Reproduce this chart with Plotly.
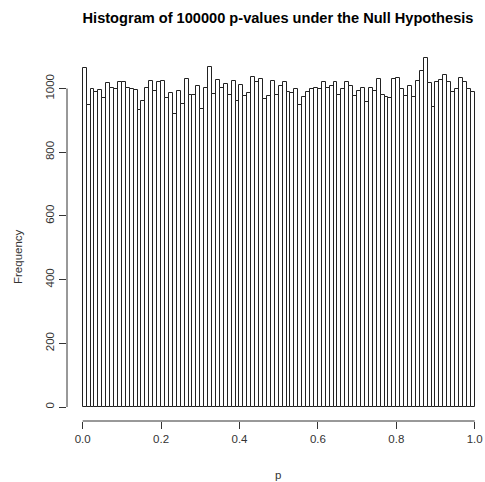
import numpy as np
import plotly.graph_objects as go

# Histogram bin counts (100 bins of width 0.01 on [0, 1])
counts = [1065, 948, 999, 990, 996, 970, 1016, 1002, 1000, 1022,
          1022, 1002, 1000, 996, 933, 962, 1002, 1024, 993, 1022,
          1024, 970, 986, 920, 991, 953, 1030, 980, 980, 1008,
          936, 1002, 1068, 982, 1027, 1002, 1013, 980, 1024, 961,
          1010, 976, 986, 1037, 1021, 1029, 968, 977, 1024, 979,
          1008, 1022, 990, 987, 1000, 948, 974, 988, 1000, 1002,
          1000, 1022, 1002, 1008, 1020, 980, 1000, 1020, 1008, 976,
          993, 1002, 958, 1002, 993, 1030, 981, 974, 969, 1029,
          1032, 998, 977, 1008, 974, 1024, 1056, 1096, 1017, 942,
          1021, 1027, 1043, 1022, 990, 998, 1032, 1020, 998, 988]
breaks = np.linspace(0, 1, len(counts) + 1)
mids = (breaks[:-1] + breaks[1:]) / 2
x_ticks = [0.0, 0.2, 0.4, 0.6, 0.8, 1.0]
x_ticklabels = ["0.0", "0.2", "0.4", "0.6", "0.8", "1.0"]
y_ticks = [0, 200, 400, 600, 800, 1000]
y_ticklabels = ["0", "200", "400", "600", "800", "1000"]

FONT = "Liberation Sans, Arial, sans-serif"
AX = "#333333"

fig = go.Figure(go.Bar(
    x=mids, y=counts, width=np.diff(breaks),
    marker=dict(color="white", line=dict(color="#222222", width=1)),
    hoverinfo="skip",
))

W, H = 485, 482
L, R, T, B = 67, 0, 44, 61
pw, ph = W - L - R, H - T - B

fig.update_layout(
    width=W, height=H,
    margin=dict(l=L, r=R, t=T, b=B),
    paper_bgcolor="white", plot_bgcolor="white",
    bargap=0, showlegend=False,
    font=dict(family=FONT, color=AX, size=11.5),
    title=dict(text="<b>Histogram of 100000 p-values under the Null Hypothesis</b>",
               x=278 / W, xanchor="center", y=1 - 18 / H, yanchor="middle",
               font=dict(family=FONT, size=14.6, color="black")),
    xaxis=dict(range=[-0.04, 1.0263], tickvals=x_ticks, ticktext=x_ticklabels,
               ticks="outside", ticklen=7, tickcolor=AX, tickwidth=1,
               showgrid=False, zeroline=False, showline=False,
               tickfont=dict(size=11.5, color=AX)),
    yaxis=dict(range=[-43.8, 1139.8], tickvals=y_ticks, ticktext=y_ticklabels,
               ticks="outside", ticklen=7, tickcolor=AX, tickwidth=1,
               tickangle=-90,
               showgrid=False, zeroline=False, showline=False,
               tickfont=dict(size=11.5, color=AX)),
    shapes=[
        dict(type="line", xref="x", yref="paper", x0=x_ticks[0], x1=x_ticks[-1],
             y0=0, y1=0, line=dict(color=AX, width=1)),
        dict(type="line", xref="paper", yref="y", x0=0, x1=0,
             y0=y_ticks[0], y1=y_ticks[-1], line=dict(color=AX, width=1)),
    ],
    annotations=[
        dict(text="Frequency", xref="paper", yref="paper",
             x=(18 - L) / pw, y=(H - B - 257) / ph, textangle=-90,
             showarrow=False, xanchor="center", yanchor="middle",
             font=dict(size=11.5, color=AX)),
        dict(text="p", xref="paper", yref="paper",
             x=(278 - L) / pw, y=(H - B - 475) / ph,
             showarrow=False, xanchor="center", yanchor="middle",
             font=dict(size=11.5, color=AX)),
    ],
)

fig.write_html("out.html")
